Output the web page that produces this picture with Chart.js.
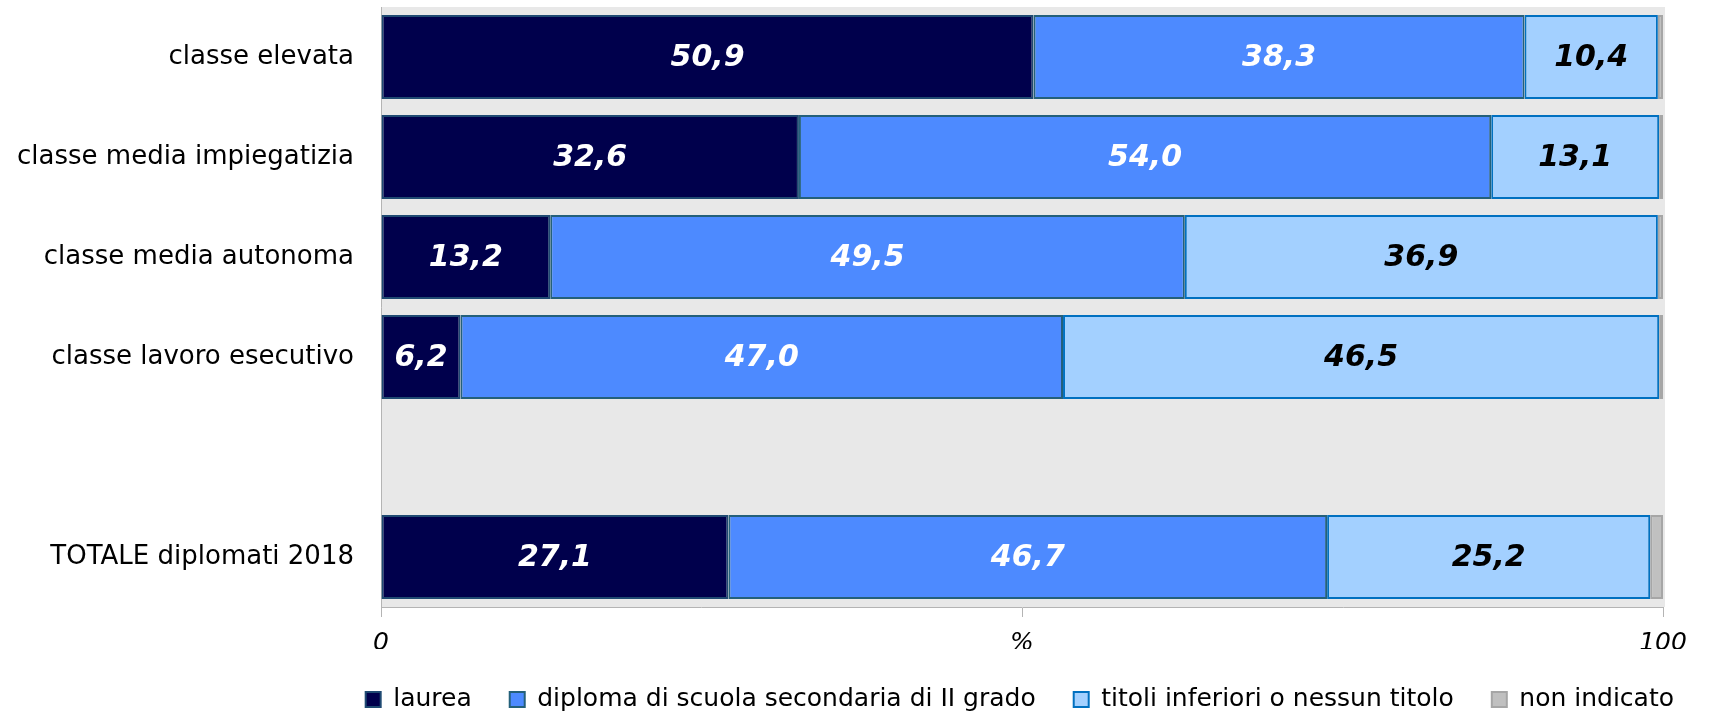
<!DOCTYPE html>
<html>
<head>
<meta charset="utf-8">
<script src="https://cdn.jsdelivr.net/npm/chart.js@4"></script>
<style>
  html, body { margin: 0; padding: 0; background: #fff; }
  #wrap { width: 1710px; height: 717px; }
</style>
</head>
<body>
<div id="wrap"><canvas id="myChart" width="1710" height="717"></canvas></div>
<script>
// categories (empty slot between the classes and the total)
const categories = ['classe elevata', 'classe media impiegatizia', 'classe media autonoma',
                    'classe lavoro esecutivo', '', 'TOTALE diplomati 2018'];
const laurea = [50.9, 32.6, 13.2, 6.2, null, 27.1];
const diploma = [38.3, 54.0, 49.5, 47.0, null, 46.7];
const titoliInferiori = [10.4, 13.1, 36.9, 46.5, null, 25.2];
const nonIndicato = [0.4, 0.3, 0.4, 0.3, null, 1.0];
const xTicks = [0, 50, 100];

const FONT = "'DejaVu Sans', Verdana, sans-serif";

// grey plot background
const plotBg = {
    id: 'plotBg',
    beforeDraw(chart) {
        const a = chart.chartArea;
        const c = chart.ctx;
        c.save();
        c.fillStyle = '#e8e8e8';
        c.fillRect(a.left, a.top, a.right - a.left + 2, a.bottom - a.top);
        c.restore();
    }
};

// push the legend row to the right edge like the original
const legendShift = {
    id: 'legendShift',
    afterLayout(chart) {
        chart.legend.right = 1712;
    }
};

// values written in the middle of each segment
const barLabels = {
    id: 'barLabels',
    afterDatasetsDraw(chart) {
        const c = chart.ctx;
        c.save();
        c.font = 'italic bold 30px ' + FONT;
        c.textAlign = 'center';
        c.textBaseline = 'middle';
        chart.data.datasets.forEach((ds, di) => {
            if (!ds.labelColor) return;
            const meta = chart.getDatasetMeta(di);
            meta.data.forEach((bar, i) => {
                const v = ds.data[i];
                if (v == null) return;
                c.fillStyle = ds.labelColor;
                c.fillText(v.toFixed(1).replace('.', ','), (bar.x + bar.base) / 2, bar.y + 1);
            });
        });
        c.restore();
    }
};

const ctx = document.getElementById('myChart').getContext('2d');
const myChart = new Chart(ctx, {
    type: 'bar',
    data: {
        labels: categories,
        datasets: [
            {
                label: 'laurea',
                data: laurea,
                backgroundColor: '#00004c',
                borderColor: '#1f4a72',
                labelColor: '#ffffff'
            },
            {
                label: 'diploma di scuola secondaria di II grado',
                data: diploma,
                backgroundColor: '#4d8aff',
                borderColor: '#24607a',
                labelColor: '#ffffff'
            },
            {
                label: 'titoli inferiori o nessun titolo',
                data: titoliInferiori,
                backgroundColor: '#a3d0ff',
                borderColor: '#0070c0',
                labelColor: '#000000'
            },
            {
                label: 'non indicato',
                data: nonIndicato,
                backgroundColor: '#c0c0c0',
                borderColor: '#a6a6a6'
            }
        ]
    },
    options: {
        indexAxis: 'y',
        responsive: false,
        animation: false,
        devicePixelRatio: 1,
        datasets: {
            bar: {
                borderWidth: 2,
                borderSkipped: false,
                categoryPercentage: 1,
                barPercentage: 0.84
            }
        },
        layout: {
            padding: { top: 7, right: 47, bottom: -5, left: 0 }
        },
        scales: {
            x: {
                stacked: true,
                min: 0,
                max: 100,
                afterBuildTicks: function (scale) {
                    scale.ticks = xTicks.map(v => ({ value: v }));
                },
                afterFit: function (scale) { scale.height = 42; },
                grid: {
                    drawOnChartArea: false,
                    drawTicks: true,
                    tickLength: 10,
                    color: '#b4b4b4'
                },
                border: { display: true, color: '#b4b4b4', width: 1 },
                ticks: {
                    padding: 11,
                    color: '#000',
                    maxRotation: 0,
                    font: { family: FONT, size: 25, style: 'italic' },
                    callback: function (v) { return v === 50 ? '%' : String(v); }
                }
            },
            y: {
                stacked: true,
                afterFit: function (scale) {
                    scale.width = 381;
                    scale.paddingTop = 0;
                    scale.paddingBottom = 0;
                },
                grid: { display: false, drawTicks: false },
                border: { display: true, color: '#b4b4b4', width: 1 },
                ticks: {
                    padding: 27,
                    color: '#000',
                    font: { family: FONT, size: 26 }
                }
            }
        },
        plugins: {
            legend: {
                display: true,
                position: 'bottom',
                align: 'end',
                labels: {
                    boxWidth: 15,
                    boxHeight: 15,
                    padding: 38,
                    color: '#000',
                    font: { family: FONT, size: 25 }
                }
            },
            tooltip: { enabled: false }
        }
    },
    plugins: [plotBg, legendShift, barLabels]
});
</script>
</body>
</html>
